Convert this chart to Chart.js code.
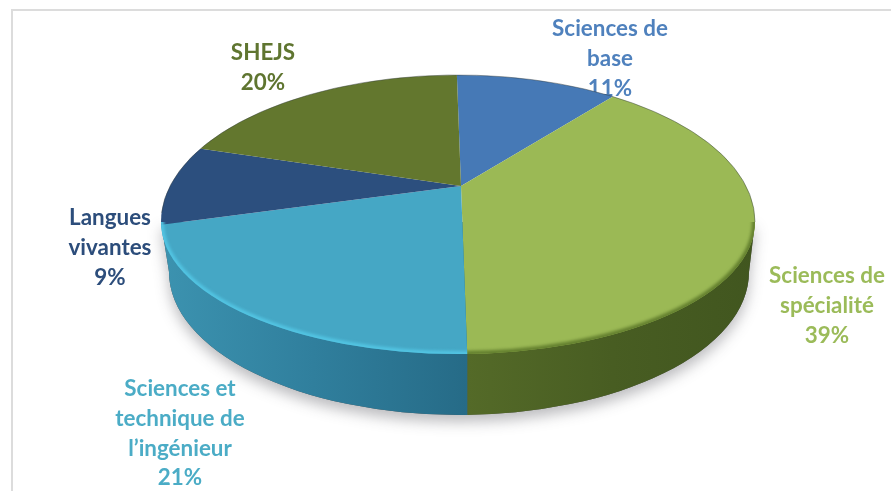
<!DOCTYPE html>
<html>
<head>
<meta charset="utf-8">
<title>Répartition</title>
<script src="https://cdn.jsdelivr.net/npm/chart.js@4"></script>
<style>
  html, body { margin: 0; padding: 0; background: #fff; overflow: hidden; }
  #wrap { position: relative; width: 891px; height: 491px; }
  #frame { position: absolute; left: 11px; top: 9px; width: 900px; height: 600px; border: 2px solid #dcdcdc; }
  canvas { position: absolute; left: 0; top: 0; filter: blur(0.4px); }
</style>
</head>
<body>
<div id="wrap">
  <div id="frame"></div>
  <canvas id="pie" width="891" height="491"></canvas>
</div>
<script>
const categories = [
  ['Sciences de', 'base'],
  ['Sciences de', 'spécialité'],
  ['Sciences et', 'technique de', 'l’ingénieur'],
  ['Langues', 'vivantes'],
  ['SHEJS']
];
const shares = [11, 39, 21, 9, 20];

const sliceColors = ['#4679b6', '#9bb955', '#45a7c5', '#2c4f7e', '#63772e'];
const textColors = ['#4f81bd', '#9bbb59', '#4bacc6', '#2c4d7b', '#5f7530'];
// wall colours, left to right, only for slices that reach the front rim
const wallColors = [null, ['#546a28', '#485d22', '#41561f'], ['#3c93b0', '#307f9d', '#266b87'], null, null];
const rimColors = [null, '#64802f', '#52c4e2', null, null];

// centre of each label block and where the pie sits on the page
const labelCentres = [[610, 29], [827, 276], [180, 389], [110, 218], [263, 53]];
const lineGap = 29.7;
const apex = { x: 461, y: 186 };
const rim = { x: 458, y: 222, rx: 297, ryTop: 147, ryBottom: 132 };
const wallFoot = { x: 459, y: 272, rx: 290, ry: 143 };
const squash = 0.47;

function rimPath(ctx) {
  ctx.beginPath();
  ctx.ellipse(rim.x, rim.y, rim.rx, rim.ryTop, 0, Math.PI, Math.PI * 2);
  ctx.ellipse(rim.x, rim.y, rim.rx, rim.ryBottom, 0, 0, Math.PI);
  ctx.closePath();
}

// outline of the side wall, narrower at its foot than the disc on top
function wallPath(ctx) {
  ctx.beginPath();
  ctx.moveTo(rim.x - rim.rx, rim.y);
  ctx.lineTo(rim.x + rim.rx, rim.y);
  ctx.ellipse(wallFoot.x, wallFoot.y, wallFoot.rx, wallFoot.ry, 0, 0, Math.PI);
  ctx.closePath();
}

function rayHit(dx, dy, ry) {
  const ox = (apex.x - rim.x) / rim.rx, oy = (apex.y - rim.y) / ry;
  const ux = dx / rim.rx, uy = dy / ry;
  const a = ux * ux + uy * uy, b = 2 * (ox * ux + oy * uy), c = ox * ox + oy * oy - 1;
  return (-b + Math.sqrt(b * b - 4 * a * c)) / (2 * a);
}

// where a slice edge leaving the apex hits the top rim
function rimXAt(angle) {
  const dx = Math.cos(angle), dy = Math.sin(angle) * squash;
  let t = rayHit(dx, dy, rim.ryBottom);
  if (apex.y + dy * t < rim.y) t = rayHit(dx, dy, rim.ryTop);
  return apex.x + dx * t;
}

// x range of a slice along the front of the disc
function frontRange(arc) {
  const props = arc.getProps(['startAngle', 'endAngle'], true);
  const xa = rimXAt(props.startAngle), xb = rimXAt(props.endAngle);
  const lo = Math.min(xa, xb), hi = Math.max(xa, xb);
  return [
    lo < apex.x - 100 ? rim.x - rim.rx - 2 : lo,
    hi > apex.x + 100 ? rim.x + rim.rx + 2 : hi
  ];
}

function drawLabels(ctx) {
  ctx.save();
  ctx.font = 'bold 22.4px Lato, sans-serif';
  ctx.textAlign = 'center';
  ctx.textBaseline = 'middle';
  categories.forEach((lines, i) => {
    lines.concat(shares[i] + '%').forEach((line, j) => {
      ctx.fillStyle = textColors[i];
      ctx.fillText(line, labelCentres[i][0], labelCentres[i][1] + j * lineGap);
    });
  });
  ctx.restore();
}

function drawWall(chart) {
  const ctx = chart.ctx;
  const arcs = chart.getDatasetMeta(0).data;

  // soft shadow under the disc
  ctx.save();
  ctx.shadowColor = 'rgba(60,60,70,0.35)';
  ctx.shadowBlur = 14;
  ctx.shadowOffsetY = 7;
  ctx.fillStyle = '#555';
  wallPath(ctx);
  ctx.fill();
  ctx.restore();

  arcs.forEach((arc, i) => {
    if (!wallColors[i]) return;
    const [x0, x1] = frontRange(arc);
    ctx.save();
    ctx.beginPath();
    ctx.rect(x0, 0, x1 - x0, 491);
    ctx.clip();

    const grad = ctx.createLinearGradient(x0, 0, x1, 0);
    wallColors[i].forEach((c, n) => grad.addColorStop(n / (wallColors[i].length - 1), c));
    ctx.fillStyle = grad;
    wallPath(ctx);
    ctx.fill();
    ctx.restore();
  });
}

function drawRim(chart) {
  const ctx = chart.ctx;
  const arcs = chart.getDatasetMeta(0).data;
  arcs.forEach((arc, i) => {
    if (!rimColors[i]) return;
    const [x0, x1] = frontRange(arc);
    ctx.save();
    ctx.beginPath();
    ctx.rect(x0, rim.y, x1 - x0, 300);
    ctx.clip();
    rimPath(ctx);
    ctx.clip();
    ctx.filter = 'blur(1.5px)';
    ctx.strokeStyle = rimColors[i];
    ctx.lineWidth = 6;
    rimPath(ctx);
    ctx.stroke();
    ctx.restore();
  });
  // thin dark edge along the back of the disc
  ctx.save();
  ctx.strokeStyle = 'rgba(50,60,60,0.45)';
  ctx.lineWidth = 1;
  ctx.beginPath();
  ctx.ellipse(rim.x, rim.y, rim.rx, rim.ryTop, 0, Math.PI * 1.02, Math.PI * 2);
  ctx.stroke();
  ctx.restore();
}

const tiltPlugin = {
  id: 'tilt',
  beforeDatasetsDraw(chart) {
    const ctx = chart.ctx;
    const first = chart.getDatasetMeta(0).data[0];
    drawLabels(ctx);
    drawWall(chart);
    ctx.save();
    rimPath(ctx);
    ctx.clip();
    ctx.translate(apex.x, apex.y);
    ctx.scale(1, squash);
    ctx.translate(-first.x, -first.y);
  },
  afterDatasetsDraw(chart) {
    chart.ctx.restore();
    drawRim(chart);
  }
};

new Chart(document.getElementById('pie'), {
  type: 'pie',
  data: {
    labels: categories.map(c => c.join(' ')),
    datasets: [{
      data: shares,
      backgroundColor: sliceColors,
      borderWidth: 0,
      clip: false
    }]
  },
  options: {
    responsive: false,
    animation: false,
    radius: 440,
    rotation: -1,
    plugins: { legend: { display: false }, tooltip: { enabled: false } }
  },
  plugins: [tiltPlugin]
});
</script>
</body>
</html>
